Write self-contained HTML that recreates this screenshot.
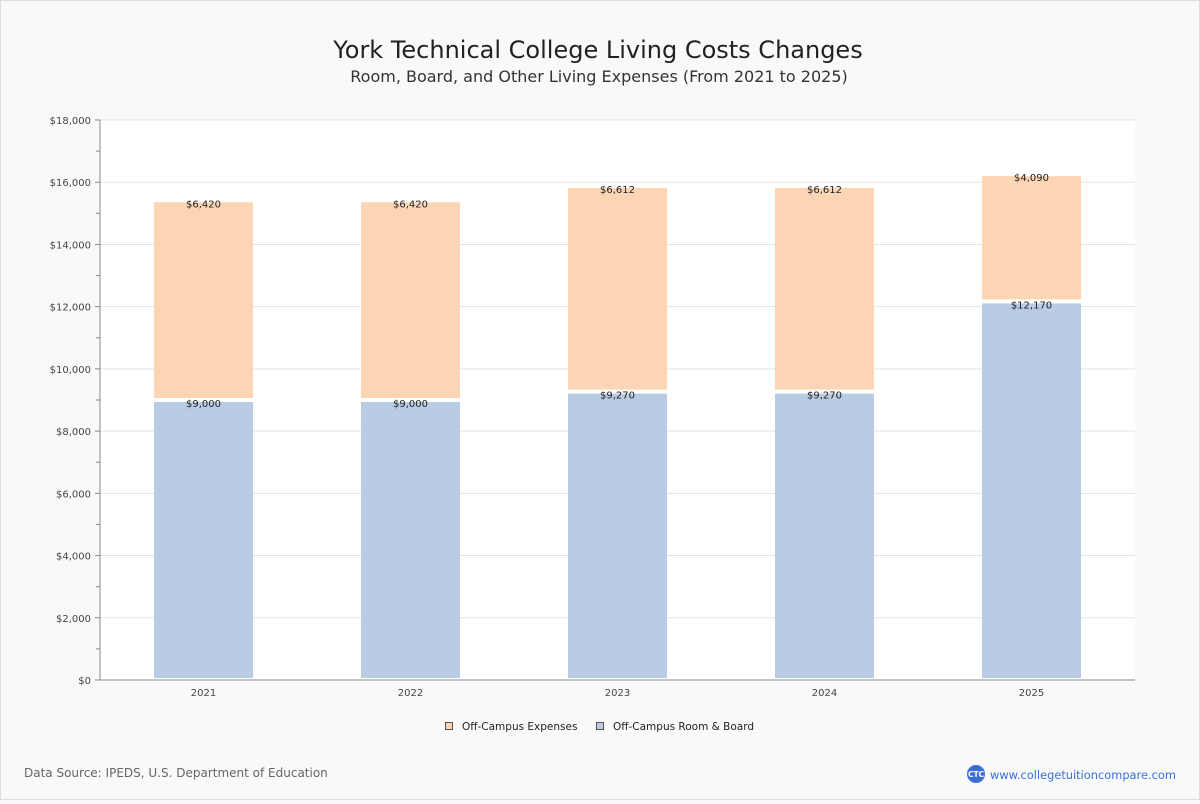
<!DOCTYPE html>
<html><head><meta charset="utf-8"><style>
html,body{margin:0;padding:0;background:#f9f9f9}
body{width:1200px;height:800px;overflow:hidden;font-family:"DejaVu Sans","Liberation Sans",sans-serif}
</style></head><body>
<svg id="chart" width="1200" height="800" xmlns="http://www.w3.org/2000/svg" font-family="DejaVu Sans, Liberation Sans, sans-serif">
<rect x="0.5" y="0.5" width="1199" height="799" fill="#f9f9f9" stroke="#ddd"/>
<text x="598" y="58" text-anchor="middle" font-size="24" fill="#222">York Technical College Living Costs Changes</text>
<text x="599" y="82" text-anchor="middle" font-size="16" fill="#333">Room, Board, and Other Living Expenses (From 2021 to 2025)</text>
<rect x="100" y="120" width="1035" height="560" fill="#fff"/>
<g id="grid"></g><g id="bars"></g><g id="axes"></g>
<g>
<rect x="445.5" y="722.5" width="7" height="7" fill="#fcd5b5" stroke="#555"/>
<text x="462" y="730" font-size="10.5" fill="#222">Off-Campus Expenses</text>
<rect x="596.5" y="722.5" width="7" height="7" fill="#b9cce4" stroke="#555"/>
<text x="613" y="730" font-size="10.5" fill="#222">Off-Campus Room &amp; Board</text>
</g>
<text x="24" y="777" font-size="12" fill="#666">Data Source: IPEDS, U.S. Department of Education</text>
<circle cx="976" cy="774" r="9" fill="#3a6fd8"/>
<text x="976" y="777" text-anchor="middle" font-size="7.5" fill="#fff" font-weight="bold">CTC</text>
<text x="990" y="779" font-size="11.4" fill="#3a6fd8">www.collegetuitioncompare.com</text>
</svg>
<script>
const years = ["2021","2022","2023","2024","2025"];
const roomBoard = [9000, 9000, 9270, 9270, 12170];
const expenses = [6420, 6420, 6612, 6612, 4090];
const yTicks = [0,2000,4000,6000,8000,10000,12000,14000,16000,18000];
const NS="http://www.w3.org/2000/svg";
const x0=100,x1=1135,y0=680,y1=120,ymax=18000;
const y=v=>y0-(v/ymax)*(y0-y1);
const band=(x1-x0)/years.length;
const xc=i=>x0+band*(i+0.5);
function mk(tag,attrs,parent){const e=document.createElementNS(NS,tag);for(const k in attrs)e.setAttribute(k,attrs[k]);parent.appendChild(e);return e;}
const grid=document.getElementById('grid'),bars=document.getElementById('bars'),axes=document.getElementById('axes');
yTicks.forEach(t=>{
  const g=mk('line',{x1:x0,x2:x1,y1:y(t),y2:y(t),stroke:'#e3e3e3'},grid);
  
  
  const tk=mk('line',{x1:x0-5,x2:x0,y1:y(t),y2:y(t),stroke:'#888'},axes);
  
  
  const lb=mk('text',{x:x0-9,y:y(t)+4,'text-anchor':'end','font-size':'10',fill:'#444'},axes);
  lb.textContent='$'+t.toLocaleString('en-US');
  
  
});
for(let t=1000;t<ymax;t+=2000){
  const m=mk('line',{x1:x0-4,x2:x0,y1:y(t),y2:y(t),stroke:'#888'},axes);
  
  
}
const ax=mk('line',{x1:x0,x2:x0,y1:y1,y2:y0,stroke:'#888'},axes);


const bx=mk('line',{x1:x0,x2:x1,y1:y0,y2:y0,stroke:'#888'},axes);


years.forEach((yr,i)=>{
  const c=xc(i),w=99;
  const rbTop=y(roomBoard[i]);
  const b=mk('rect',{x:c-w/2,y:rbTop+2,width:w,height:y0-2-(rbTop+2),fill:'#b9cce4'},bars);
  
  
  const top=roomBoard[i]+expenses[i];
  const oTop=y(top);
  const o=mk('rect',{x:c-w/2,y:oTop+2,width:w,height:rbTop-2-(oTop+2),fill:'#fcd5b5'},bars);
  
  
  const l1=mk('text',{x:c,y:rbTop+7,'text-anchor':'middle','font-size':'10',fill:'#222'},bars);
  l1.textContent='$'+roomBoard[i].toLocaleString('en-US');
  
  
  const l2=mk('text',{x:c,y:oTop+7,'text-anchor':'middle','font-size':'10',fill:'#222'},bars);
  l2.textContent='$'+expenses[i].toLocaleString('en-US');
  
  
  const xl=mk('text',{x:c,y:y0+16,'text-anchor':'middle','font-size':'10',fill:'#444'},axes);
  xl.textContent=yr;
  
  
});
</script>
</body></html>
